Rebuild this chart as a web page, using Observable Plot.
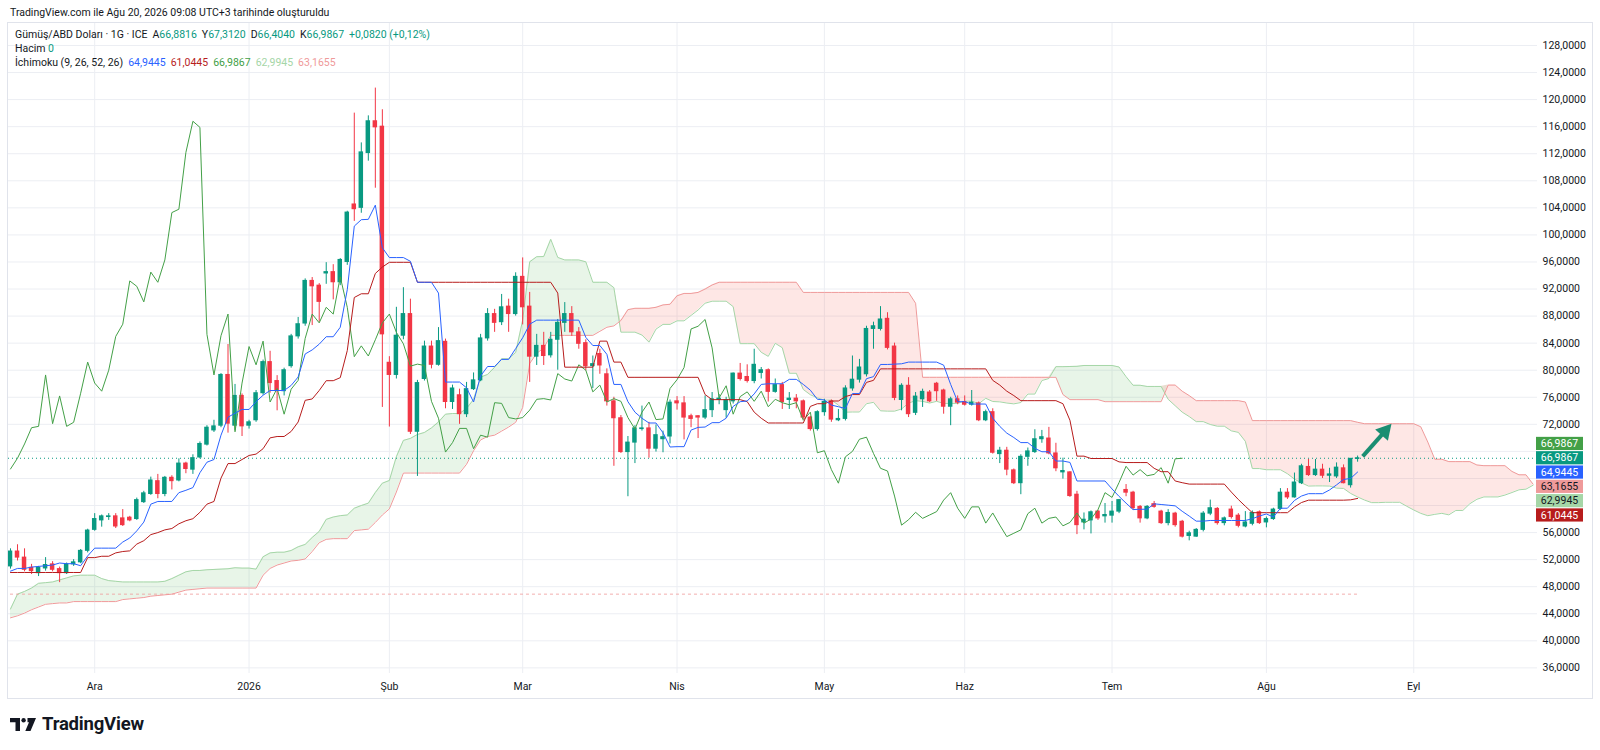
<!DOCTYPE html>
<html>
<head>
<meta charset="utf-8">
<script src="https://cdn.jsdelivr.net/npm/d3@7"></script>
<script src="https://cdn.jsdelivr.net/npm/@observablehq/plot@0.6"></script>
<style>
  body { margin: 0; background: #ffffff; font-family: Roboto, "Liberation Sans", sans-serif; color: #131722; }
  #page { position: relative; width: 1600px; height: 750px; overflow: hidden; background: #fff; }
  #hdr { position: absolute; left: 10px; top: 6px; font-size: 10.5px; line-height: 14px; white-space: nowrap; }
  #pane { position: absolute; left: 7px; top: 22px; width: 1586px; height: 677px; border: 1px solid #e0e3eb; box-sizing: border-box; }
  #chart { position: absolute; left: 0; top: 0; }
  #legend { position: absolute; left: 7px; top: 5px; font-size: 10.5px; line-height: 14px; white-space: nowrap; }
  #legend .v { color: #089981; }
  #legend span.gap { display: inline-block; width: 5px; }
  #logo { position: absolute; left: 10px; top: 715px; height: 18px; display: flex; align-items: center; gap: 6px; }
  #logo span { font-size: 18.5px; font-weight: 700; letter-spacing: -0.2px; color: #131722; }
</style>
</head>
<body>
<div id="page">
  <div id="hdr">TradingView.com ile Ağu 20, 2026 09:08 UTC+3 tarihinde oluşturuldu</div>
  <div id="pane">
    <div id="chart"></div>
    <div id="legend"></div>
  </div>
  <div id="logo">
    <svg width="26" height="13" viewBox="0 0 26 13"><path d="M0 0H10V13H5.5V4.2H0Z" fill="#131722"/><circle cx="13.6" cy="2.2" r="2.2" fill="#131722"/><path d="M17.5 0H26L20.5 13H15.3L19 4.2H17.5Z" fill="#131722"/></svg>
    <span>TradingView</span>
  </div>
</div>
<script>
// ---------- data (daily bars, index 0 = first visible bar) ----------
const opens = [
51.0,53.2,52.3,50.8,50.0,50.7,51.3,50.6,50.0,51.3,
51.6,53.3,56.4,57.8,58.3,58.4,58.1,58.2,58.0,60.5,
61.7,63.6,61.7,64.1,63.7,66.2,65.3,67.1,69.0,71.1,
71.8,79.3,71.8,76.2,71.8,72.6,76.6,81.2,78.4,76.9,
80.6,85.0,86.9,93.2,92.5,94.3,94.5,93.0,96.0,104.5,
104.0,112.1,116.8,116.0,81.1,79.3,85.1,88.3,70.9,78.7,
83.5,80.8,84.2,75.3,76.3,73.5,77.2,78.5,84.7,88.3,
87.1,89.4,88.3,93.8,89.4,82.0,83.6,82.2,84.5,87.0,
88.3,85.6,84.0,80.6,82.4,79.4,75.4,72.9,67.9,69.3,
71.3,71.4,68.4,69.8,70.2,75.4,75.1,73.2,73.2,73.0,
74.1,75.6,74.1,75.4,79.5,79.0,78.4,79.6,80.0,76.8,
77.8,75.6,75.8,75.4,73.0,71.3,73.8,75.4,72.6,72.8,
77.3,78.6,79.4,86.1,86.1,87.6,83.5,75.6,77.7,73.7,
75.7,76.7,78.0,77.0,74.6,75.7,75.3,74.9,75.1,72.6,
73.8,67.6,68.1,65.2,63.3,67.2,67.9,69.8,69.9,67.7,
64.9,64.9,61.6,57.5,57.8,59.1,58.4,58.5,59.1,62.3,
61.9,59.8,58.1,60.2,59.1,57.4,58.8,57.6,55.5,55.4,
56.4,58.8,59.5,57.4,59.4,58.5,56.9,57.3,59.0,57.5,
58.0,59.5,61.9,61.2,63.3,65.7,64.5,65.3,64.4,64.3,
65.5,63.0,66.8816];
const highs = [
53.6,54.2,53.6,51.3,51.0,52.3,51.7,50.9,51.5,52.0,
53.5,56.5,58.8,58.6,58.8,58.8,59.4,58.4,61.1,62.1,
64.2,64.6,64.3,64.4,66.9,66.4,67.5,69.4,71.8,72.6,
79.5,83.8,77.9,76.5,72.6,77.0,81.5,82.8,79.2,80.3,
85.3,87.8,93.5,93.7,92.8,95.9,95.6,96.5,103.5,118.0,
113.6,117.6,121.7,118.5,82.0,89.3,92.2,90.5,78.5,84.3,
84.3,86.3,84.6,77.8,77.2,78.2,79.6,85.3,89.1,89.0,
91.2,90.5,94.4,96.6,91.5,85.3,85.6,85.6,87.5,90.0,
89.4,86.3,84.5,82.1,83.1,80.2,76.0,73.3,70.2,71.8,
74.7,72.3,71.9,71.0,75.6,76.1,76.1,73.5,73.3,76.2,
76.7,76.4,76.0,79.6,81.0,80.8,83.1,80.4,80.2,78.7,
78.2,76.7,76.4,75.6,73.2,74.0,75.7,75.6,74.2,77.7,
82.1,81.6,86.5,87.1,89.4,88.5,84.0,78.0,78.9,76.7,
77.2,77.0,78.2,77.2,76.0,76.2,76.2,77.0,75.3,74.1,
74.3,68.6,68.6,65.4,67.5,68.5,71.2,71.1,71.55,69.2,
67.0,65.0,62.1,58.9,59.2,59.3,60.3,60.6,60.9,63.1,
62.1,60.0,60.0,60.6,59.3,59.4,59.0,57.8,56.2,56.6,
59.1,60.8,59.7,58.3,59.9,58.8,59.1,59.2,59.2,58.3,
59.6,62.5,62.5,64.8,66.1,66.8,66.8,66.1,65.5,66.3,
66.0,66.9,67.312];
const lows = [
50.6,51.8,50.2,49.8,49.5,50.3,50.2,48.6,49.8,51.0,
51.4,53.0,56.2,56.8,57.8,56.6,56.9,57.6,57.8,60.3,
61.5,61.0,61.3,62.3,63.5,64.7,64.6,66.9,68.8,70.8,
71.5,70.7,71.1,70.2,71.3,72.3,76.3,76.6,74.0,76.2,
80.3,84.6,86.5,86.6,87.1,92.7,90.4,92.5,95.5,102.0,
103.2,110.9,106.9,74.5,71.6,78.7,84.5,70.5,64.3,78.4,
80.2,80.6,74.3,74.2,72.0,73.0,77.0,78.3,84.3,85.6,
86.6,85.6,88.0,86.7,78.2,80.7,80.7,81.8,80.0,85.6,
85.0,83.1,79.9,77.3,79.4,74.7,65.8,67.7,61.3,66.2,
71.0,67.0,67.9,67.8,69.1,74.1,69.7,71.5,69.9,72.7,
73.0,74.9,72.9,75.0,78.4,78.1,78.0,78.7,75.3,76.6,
74.2,74.2,74.3,72.7,71.0,71.0,73.2,72.3,72.4,72.5,
76.9,78.1,79.0,83.1,85.8,83.0,75.5,74.0,73.0,73.3,
74.5,75.2,75.4,73.5,71.8,74.9,74.7,74.7,72.4,72.4,
67.6,66.2,64.4,63.1,61.6,65.8,67.7,69.2,67.5,65.0,
63.9,61.2,55.7,56.4,55.8,57.8,57.4,57.4,58.8,61.3,
59.3,57.4,57.9,59.6,57.2,57.0,56.8,55.2,54.78,55.3,
56.1,58.5,57.1,57.0,58.0,56.7,56.7,57.0,57.2,56.7,
57.8,59.3,60.9,61.1,63.1,64.3,64.3,64.0,63.4,64.0,
63.2,62.58,66.404];
const closes = [
53.2,52.3,50.5,50.3,50.8,51.2,50.5,50.0,51.3,51.6,
53.3,56.3,58.0,58.4,58.4,56.9,57.1,57.8,60.8,61.8,
63.7,61.7,64.1,63.6,66.2,65.4,67.0,69.1,71.5,71.7,
79.3,72.1,76.2,71.7,72.3,76.6,81.2,78.1,76.9,80.0,
85.0,86.8,93.2,92.4,90.1,94.5,93.0,96.3,103.3,103.8,
112.2,116.8,115.9,85.3,79.3,85.1,88.3,70.9,78.1,83.5,
80.8,84.3,75.3,77.3,73.5,77.2,78.5,84.7,88.3,87.0,
89.3,88.3,93.8,89.3,82.0,83.6,82.1,84.5,87.0,88.3,
85.6,83.9,80.6,80.9,80.7,75.4,72.9,67.9,69.3,71.4,
71.4,68.4,70.4,70.1,75.2,75.1,73.0,72.8,73.0,74.1,
75.7,75.8,75.6,79.5,78.7,78.4,80.8,80.0,76.8,77.8,
75.3,75.8,75.4,73.0,71.3,73.8,75.3,72.7,72.8,77.3,
78.6,80.4,86.1,86.5,87.5,83.3,75.9,77.7,73.5,76.1,
76.8,75.4,76.9,74.6,75.7,75.2,74.9,75.2,72.6,73.8,
67.8,68.1,65.3,63.3,67.2,68.0,69.8,70.1,67.7,65.5,
65.1,61.4,57.1,57.9,59.0,58.1,58.6,59.1,60.8,61.9,
59.6,58.1,59.8,59.8,57.4,58.9,57.1,55.4,55.9,56.4,
58.8,59.6,57.4,58.1,58.3,57.0,57.5,58.9,57.4,58.0,
59.4,61.9,61.2,63.4,65.8,64.5,65.3,64.4,64.6,65.6,
63.3,66.9047,66.9867];

// Ichimoku values at the left edge that depend on bars before the visible window
const tenkanLead = [50.3,50.7,50.7,50.9,51.0,51.1,51.2,51.5];
const kijunLead = [50.1,50.1,50.1,50.1,50.1,50.1,50.1,50.1,50.1,50.1,50.1,52.3,52.3,52.5,52.5,53.0,53.2,53.3,54.3,54.8,55.7,56.0,56.4,56.6,57.3];
const spanALead = [44.7,46.9,47.3,47.8,48.5,48.6,48.7,49.0,49.3,49.6,49.7,49.7,49.7,49.2,48.9,48.8,48.7,48.7,48.7,48.7,48.7,48.7,48.8,49.2,49.7];
const spanBLead = [43.4,43.7,44.1,44.6,45.0,45.4,45.5,45.6,45.6,45.8,45.8,45.8,45.8,45.8,45.8,45.8,46.1,46.2,46.3,46.4,
  46.6,46.7,46.8,46.9,47.2,47.5,47.6,47.7,47.8,47.8,47.8,47.8,47.8,47.8,47.8,47.8,49.7,50.7,51.2,51.5,
  51.8,51.9,52.1,53.2,54.5,55.0,55.1,55.1,55.1,56.3,56.4,56.5,57.5,58.6,59.5,62.0,64.8,64.8,64.8,64.8,
  64.8,64.8,64.8,64.8,64.8,66.1,68.1,69.7,70.2,70.4,71.0,71.6,72.3,74.5,81.0,82.5];

const monthTickIndex = [12, 34, 54, 73, 95, 116, 136, 157, 179, 200];
const monthTickLabels = ["Ara", "2026", "Şub", "Mar", "Nis", "May", "Haz", "Tem", "Ağu", "Eyl"];
const priceTicks = [36,40,44,48,52,56,60,64,68,72,76,80,84,88,92,96,100,104,108,112,116,120,124,128];

const lastBarValues = [66.8816, 67.3120, 66.4040, 66.9867];   // A, Y, D, K
const lastChange = [0.0820, 0.12];
const ichimokuValues = [64.9445, 61.0445, 66.9867, 62.9945, 63.1655]; // tenkan, kijun, chikou, spanA, spanB
const dashedLevel = [46.9];
const arrowFrom = [192.8, 67.2];
const arrowTo = [196.9, 72.0];

// ---------- derived ----------
const UP = "#089981", DOWN = "#f23645";
const N = closes.length;
const SHIFT = 25;
function mid(n, i) {
  let hi = -Infinity, lo = Infinity;
  for (let k = i - n + 1; k <= i; k++) { hi = Math.max(hi, highs[k]); lo = Math.min(lo, lows[k]); }
  return (hi + lo) / 2;
}
const tenkan = d3.range(N).map(i => i < 8 ? tenkanLead[i] : mid(9, i));
const kijun = d3.range(N).map(i => i < 25 ? kijunLead[i] : mid(26, i));
const spanA = d3.range(N + SHIFT).map(j => j < 25 ? spanALead[j] : (tenkan[j - SHIFT] + kijun[j - SHIFT]) / 2);
const spanB = d3.range(N + SHIFT).map(j => j < 76 ? spanBLead[j] : mid(52, j - SHIFT));

const bars = d3.range(N).map(i => ({i, o: opens[i], h: highs[i], l: lows[i], c: closes[i], t: tenkan[i], k: kijun[i]}));
const cloud = d3.range(N + SHIFT).map(j => ({j, a: spanA[j], b: spanB[j]}));
const chikou = bars.filter(d => d.i >= SHIFT).map(d => ({x: d.i - SHIFT, y: d.c}));
const col = d => d.c >= d.o ? UP : DOWN;
const fmt = v => v.toFixed(4).replace(".", ",");
const labelOf = new Map(monthTickIndex.map((t, k) => [t, monthTickLabels[k]]));
const lastClose = closes[N - 1];

const W = 1584, H = 675, MR = 55, MB = 25;
const Y_DOMAIN = [35.17, 131.25];
// right-axis value boxes: stacked around the last price; tick labels hidden behind them are dropped
const STEP = 14.3, BH = 13.2, BW = 47;
const yPix = d3.scaleLinear().domain(Y_DOMAIN).range([H - MB, 0]);
const boxTop = yPix(lastClose) - STEP - BH / 2 - 4;
const boxBottom = yPix(lastClose) + 4 * STEP + BH / 2 + 4;
const shownTicks = priceTicks.filter(t => yPix(t) < boxTop || yPix(t) > boxBottom);

const chart = Plot.plot({
  width: W, height: H,
  marginLeft: 0, marginRight: MR, marginTop: 0, marginBottom: MB,
  style: {fontFamily: "Roboto, 'Liberation Sans', sans-serif", fontSize: "10.5px", color: "#131722", background: "transparent", overflow: "visible"},
  x: {type: "linear", domain: [-0.285, 217.64]},
  y: {type: "linear", domain: Y_DOMAIN},
  marks: [
    Plot.ruleY(priceTicks, {stroke: "#eceef3", strokeWidth: 1}),
    Plot.ruleX(monthTickIndex, {stroke: "#eceef3", strokeWidth: 1}),
    // cloud
    Plot.areaY(cloud, {x: "j", y1: "b", y2: d => Math.max(d.a, d.b), fill: "#4caf50", fillOpacity: 0.13, clip: true}),
    Plot.areaY(cloud, {x: "j", y1: "a", y2: d => Math.max(d.a, d.b), fill: "#f44336", fillOpacity: 0.13, clip: true}),
    Plot.line(cloud, {x: "j", y: "a", stroke: "#a5d6a7", strokeWidth: 1, clip: true}),
    Plot.line(cloud, {x: "j", y: "b", stroke: "#ef9a9a", strokeWidth: 1, clip: true}),
    // reference levels
    Plot.ruleY(dashedLevel, {x1: 0, x2: N - 1, stroke: "#f09a9a", strokeOpacity: 0.8, strokeDasharray: "3,3"}),
    Plot.ruleY([lastClose], {stroke: UP, strokeDasharray: "1,3", strokeWidth: 1}),
    // candles
    Plot.ruleX(bars, {x: "i", y1: "l", y2: "h", stroke: col, strokeWidth: 1, clip: true}),
    Plot.rect(bars, {x1: d => d.i - 0.32, x2: d => d.i + 0.32, y1: "o", y2: "c", fill: col, insetTop: -0.5, insetBottom: -0.5, clip: true}),
    // ichimoku lines
    Plot.line(chikou, {x: "x", y: "y", stroke: "#43a047", strokeWidth: 1, clip: true}),
    Plot.line(bars, {x: "i", y: "k", stroke: "#b71c1c", strokeWidth: 1, clip: true}),
    Plot.line(bars, {x: "i", y: "t", stroke: "#2962ff", strokeWidth: 1, clip: true}),
    // axes
    Plot.axisX(monthTickIndex, {tickSize: 0, tickPadding: 9, tickFormat: d => labelOf.get(d), label: null, fontSize: 10.5}),
    Plot.axisY(shownTicks, {anchor: "right", tickSize: 0, tickPadding: 5, tickFormat: fmt, label: null, fontSize: 10.5})
  ]
});
document.getElementById("chart").appendChild(chart);

// ---------- overlays drawn with the chart's own scales ----------
const xs = chart.scale("x"), ys = chart.scale("y");
const svg = d3.select(chart);

// arrow drawing
(function () {
  const p0 = [xs.apply(arrowFrom[0]), ys.apply(arrowFrom[1])];
  const p1 = [xs.apply(arrowTo[0]), ys.apply(arrowTo[1])];
  const dx = p1[0] - p0[0], dy = p1[1] - p0[1], len = Math.hypot(dx, dy);
  const ux = dx / len, uy = dy / len, px = -uy, py = ux;
  const headL = 15, headW = 8.5;
  const bx = p1[0] - ux * headL, by = p1[1] - uy * headL;
  const g = svg.append("g");
  g.append("line").attr("x1", p0[0]).attr("y1", p0[1]).attr("x2", bx + ux * 2).attr("y2", by + uy * 2)
    .attr("stroke", "#1a8e72").attr("stroke-width", 4);
  g.append("path").attr("d", `M${p1[0]},${p1[1]}L${bx + px * headW},${by + py * headW}L${bx - px * headW},${by - py * headW}Z`)
    .attr("fill", "#1a8e72");
})();

// right-axis value labels
(function () {
  const items = [
    {v: ichimokuValues[2], bg: "#43a047", fg: "#ffffff"},
    {v: lastClose, bg: UP, fg: "#ffffff"},
    {v: ichimokuValues[0], bg: "#2962ff", fg: "#ffffff"},
    {v: ichimokuValues[4], bg: "#ef9a9a", fg: "#131722"},
    {v: ichimokuValues[3], bg: "#a5d6a7", fg: "#131722"},
    {v: ichimokuValues[1], bg: "#b71c1c", fg: "#ffffff"}
  ];
  const yPrice = ys.apply(lastClose);
  const bx = W - MR - 1;
  const g = svg.append("g");
  items.forEach((it, k) => {
    const cy = yPrice + (k - 1) * STEP;
    g.append("rect").attr("x", bx).attr("y", cy - BH / 2).attr("width", BW).attr("height", BH).attr("fill", it.bg);
    g.append("text").attr("x", bx + BW / 2).attr("y", cy).attr("dy", "0.35em").attr("text-anchor", "middle")
      .attr("fill", it.fg).attr("font-size", 10.5).text(fmt(it.v));
  });
})();

// ---------- legend text ----------
(function () {
  const L = document.getElementById("legend");
  const keys = ["A", "Y", "D", "K"];
  let row1 = "Gümüş/ABD Doları · 1G · ICE<span class='gap'></span>";
  keys.forEach((k, i) => { row1 += `${k}<span class="v">${fmt(lastBarValues[i])}</span><span class='gap'></span>`; });
  row1 += `<span class="v">+${fmt(lastChange[0])} (+${lastChange[1].toFixed(2).replace(".", ",")}%)</span>`;
  const icol = ["#2962ff", "#b71c1c", "#43a047", "#a5d6a7", "#ef9a9a"];
  let row3 = "İchimoku (9, 26, 52, 26)<span class='gap'></span>";
  ichimokuValues.forEach((v, i) => { row3 += `<span style="color:${icol[i]}">${fmt(v)}</span><span class='gap'></span>`; });
  L.innerHTML = `<div>${row1}</div><div>Hacim <span class="v">0</span></div><div>${row3}</div>`;
})();
</script>
</body>
</html>
